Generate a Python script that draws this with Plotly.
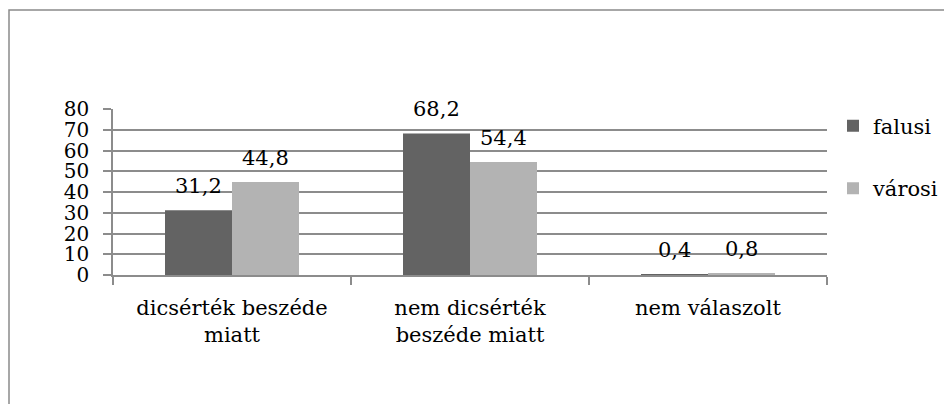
import plotly.graph_objects as go

categories = ['dicsérték beszéde<br>miatt', 'nem dicsérték<br>beszéde miatt', 'nem válaszolt']
falusi = [31.2, 68.2, 0.4]
varosi = [44.8, 54.4, 0.8]
y_ticks = [0, 10, 20, 30, 40, 50, 60, 70, 80]

# page has an 8px body margin, so margins are shifted by 8
W, H = 952, 404
m = dict(l=105, r=133, t=101, b=137)
font = 'DejaVu Serif'
grid = '#8c8c8c'
bargap = 0.437

fig = go.Figure()
fig.add_trace(go.Bar(x=categories, y=falusi, name='falusi', marker_color='#636363',
                     marker_line_width=0, legendgroup='a'))
fig.add_trace(go.Bar(x=categories, y=varosi, name='városi', marker_color='#b3b3b3',
                     marker_line_width=0, legendgroup='b'))

pw = W - m['l'] - m['r']
ph = H - m['t'] - m['b']

# value labels sit a bit higher above the bars than plotly's "outside" text
bar_px = pw / len(categories) * (1 - bargap) / 2
for vals, side in ((falusi, -1), (varosi, 1)):
    for cat, v in zip(categories, vals):
        fig.add_annotation(x=cat, y=v, xref='x', yref='y', text=f'{v:.1f}'.replace('.', ','),
                           showarrow=False, yanchor='bottom', xshift=side * bar_px / 2,
                           yshift=10, font=dict(family=font, size=21, color='black'))

# outer chart frame (cropped on the right / bottom in the original)
fig.add_shape(type='rect', xref='paper', yref='paper',
              x0=-(m['l'] - 1) / pw, x1=(W + 20 - m['l']) / pw,
              y0=-(m['b'] + 20) / ph, y1=1 + (m['t'] - 2) / ph,
              line=dict(color='#8a8a8a', width=1.5), layer='below')

fig.update_layout(
    width=W, height=H, margin=m,
    paper_bgcolor='white', plot_bgcolor='white',
    font=dict(family=font, size=21, color='black'),
    barmode='group', bargap=bargap, bargroupgap=0,
    legend=dict(x=1.0 + 6 / pw, y=1.02, xanchor='left', yanchor='top',
                font=dict(family=font, size=21), tracegroupgap=32, traceorder='grouped',
                bgcolor='rgba(0,0,0,0)'),
    showlegend=True,
)
fig.update_yaxes(range=[0, 80], tickvals=y_ticks, showgrid=True, gridcolor=grid, gridwidth=1.5,
                 showline=True, linecolor=grid, linewidth=1.5, ticks='outside', ticklen=8,
                 tickcolor=grid, tickwidth=1.5, zeroline=False, ticklabelstandoff=10,
                 tickfont=dict(family=font, size=20))
fig.update_xaxes(showline=True, linecolor=grid, linewidth=1.5, ticks='outside', ticklen=8,
                 tickcolor=grid, tickwidth=1.5, tickson='boundaries', showgrid=False,
                 tickfont=dict(family=font, size=21), ticklabelstandoff=13)

fig.write_html("out.html")
